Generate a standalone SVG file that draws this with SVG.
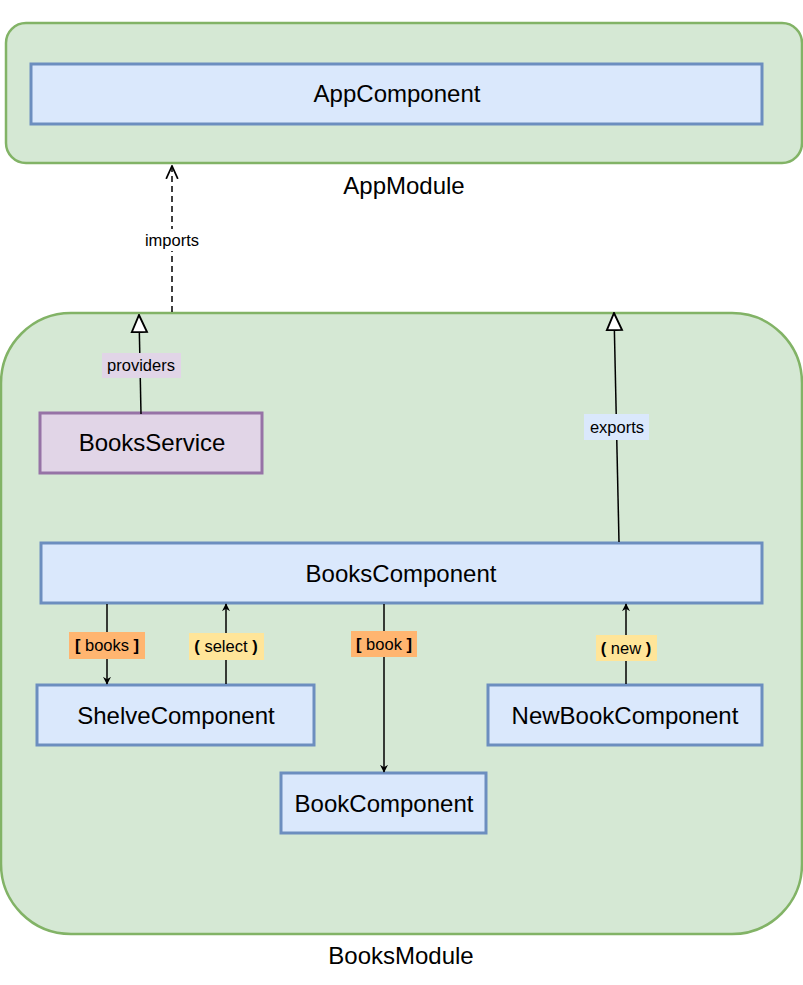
<svg xmlns="http://www.w3.org/2000/svg" width="803" height="985" viewBox="0 0 803 985">
<style>
.mod{fill:#d5e8d4;stroke:#82b366;stroke-width:2.5}
.comp{fill:#dae8fc;stroke:#6c8ebf;stroke-width:3}
.svc{fill:#e1d5e7;stroke:#9673a6;stroke-width:3}
.t{font-family:"Liberation Sans",Arial,sans-serif;font-size:24px;text-anchor:middle;fill:#000}
.l{font-family:"Liberation Sans",Arial,sans-serif;font-size:16.5px;text-anchor:middle;fill:#000}
.ln{stroke:#000;stroke-width:1.5;fill:none}
.b{font-weight:bold}
</style>
<defs>
<marker id="arr" viewBox="0 0 10 10" refX="9" refY="5" markerWidth="8" markerHeight="8" markerUnits="userSpaceOnUse" orient="auto">
<path d="M0,0 L10,5 L0,10 L3,5 Z" fill="#000"/>
</marker>
<marker id="open" viewBox="0 0 12 12" refX="11" refY="6" markerWidth="14" markerHeight="14" markerUnits="userSpaceOnUse" orient="auto">
<path d="M0,1 L11,6 L0,11" fill="none" stroke="#000" stroke-width="1.5"/>
</marker>
<marker id="tri" viewBox="0 0 20 20" refX="19" refY="10" markerWidth="19" markerHeight="19" markerUnits="userSpaceOnUse" orient="auto">
<path d="M1,2 L19,10 L1,18 Z" fill="#fff" stroke="#000" stroke-width="2"/>
</marker>
</defs>
<g id="AppModule">
<rect class="mod" x="6" y="23" width="796" height="140" rx="20"/>
<text class="t" x="404" y="194">AppModule</text>
</g>
<g id="AppComponent">
<rect class="comp" x="31" y="64" width="731" height="60"/>
<text class="t" x="397" y="102">AppComponent</text>
</g>
<g id="BooksModule">
<rect class="mod" x="1" y="313" width="801" height="621" rx="70"/>
<text class="t" x="401" y="964">BooksModule</text>
</g>
<g id="BooksService">
<rect class="svc" x="40" y="413" width="222" height="60"/>
<text class="t" x="152" y="451">BooksService</text>
</g>
<g id="BooksComponent">
<rect class="comp" x="41" y="543" width="721" height="60"/>
<text class="t" x="401" y="582">BooksComponent</text>
</g>
<g id="ShelveComponent">
<rect class="comp" x="37" y="685" width="277" height="60"/>
<text class="t" x="176" y="724">ShelveComponent</text>
</g>
<g id="BookComponent">
<rect class="comp" x="281" y="773" width="205" height="60"/>
<text class="t" x="384" y="812">BookComponent</text>
</g>
<g id="NewBookComponent">
<rect class="comp" x="488" y="685" width="274" height="60"/>
<text class="t" x="625" y="724">NewBookComponent</text>
</g>
<g id="connectors">
<line class="ln" x1="172" y1="312" x2="172" y2="166" stroke-dasharray="6,4" marker-end="url(#open)"/>
<rect x="139" y="229" width="66" height="22" fill="#fff"/>
<text class="l" x="172" y="246">imports</text>

<line class="ln" x1="141" y1="414" x2="139" y2="315" stroke-width="2" marker-end="url(#tri)"/>
<rect x="102" y="353" width="79" height="25" fill="#e1d5e7"/>
<text class="l" x="141" y="371">providers</text>

<line class="ln" x1="619" y1="542" x2="614" y2="313" stroke-width="2" marker-end="url(#tri)"/>
<rect x="584" y="414" width="65" height="26" fill="#dae8fc"/>
<text class="l" x="617" y="433">exports</text>

<line class="ln" x1="107" y1="604" x2="107" y2="684" marker-end="url(#arr)"/>
<rect x="69" y="632" width="76" height="27" fill="#ffb570"/>
<text class="l" x="107" y="651"><tspan class="b">[</tspan> books <tspan class="b">]</tspan></text>

<line class="ln" x1="226" y1="684" x2="226" y2="604" marker-end="url(#arr)"/>
<rect x="189" y="633" width="75" height="27" fill="#ffe599"/>
<text class="l" x="226" y="652"><tspan class="b">(</tspan> select <tspan class="b">)</tspan></text>

<line class="ln" x1="384" y1="604" x2="384" y2="772" marker-end="url(#arr)"/>
<rect x="351" y="631" width="66" height="26" fill="#ffb570"/>
<text class="l" x="384" y="650"><tspan class="b">[</tspan> book <tspan class="b">]</tspan></text>

<line class="ln" x1="626" y1="684" x2="626" y2="604" marker-end="url(#arr)"/>
<rect x="596" y="635" width="61" height="26" fill="#ffe599"/>
<text class="l" x="626" y="654"><tspan class="b">(</tspan> new <tspan class="b">)</tspan></text>
</g>
</svg>
